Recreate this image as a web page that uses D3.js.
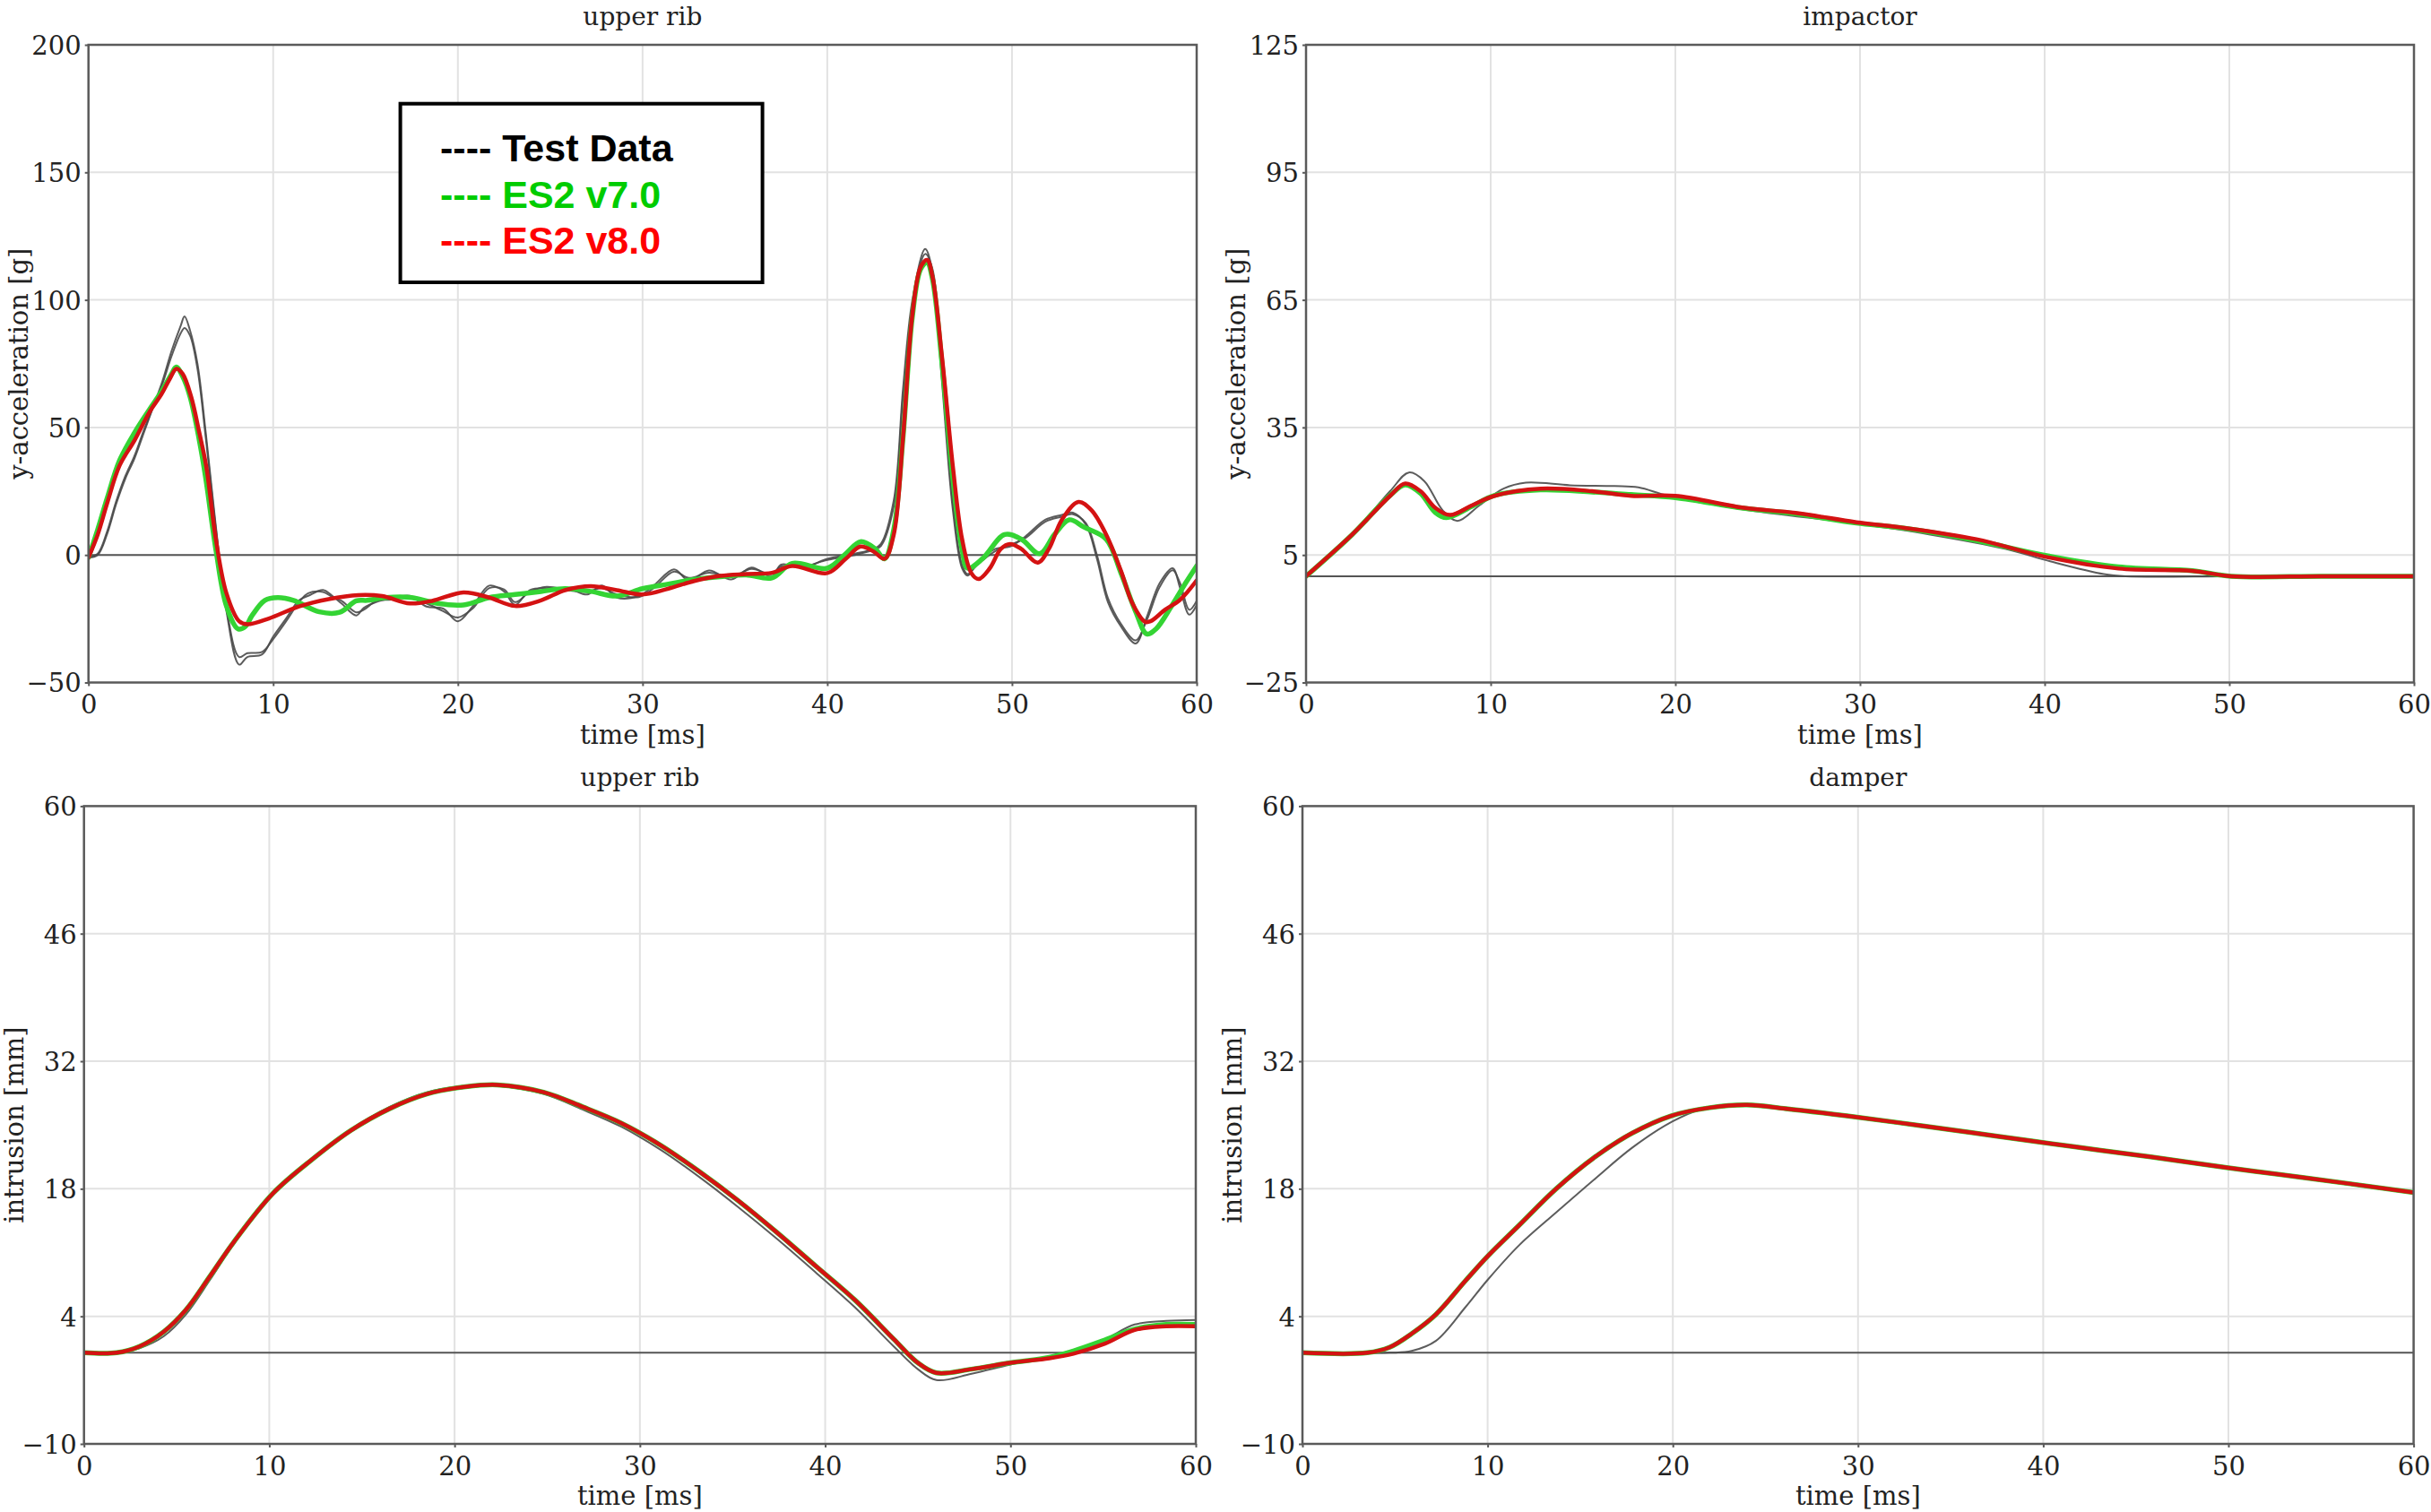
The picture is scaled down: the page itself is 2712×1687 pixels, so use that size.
<!DOCTYPE html>
<html><head><meta charset="utf-8">
<script src="https://cdn.jsdelivr.net/npm/d3@7"></script>
<style>html,body{margin:0;padding:0;background:#fff;} svg{display:block}</style>
</head><body><svg id="c" width="2712" height="1687"></svg>
<script>
// ---------------- DATA ----------------
const timeTicks = [0, 10, 20, 30, 40, 50, 60];
const accRibTicks = [-50, 0, 50, 100, 150, 200];
const accImpTicks = [-25, 5, 35, 65, 95, 125];
const intrTicks = [-10, 4, 18, 32, 46, 60];

const panelTitles = ["upper rib", "impactor", "upper rib", "damper"];
const yTitles = ["y-acceleration [g]", "y-acceleration [g]", "intrusion [mm]", "intrusion [mm]"];
const xTitle = "time [ms]";
const legendLabels = ["---- Test Data", "---- ES2 v7.0", "---- ES2 v8.0"];

// Panel 1: upper rib y-acceleration [g]
const ribAccTestT = [0,0.5,1.0,1.5,2.0,2.5,3.0,3.5,4.0,4.5,5.0,5.2,5.5,5.9,6.35,6.9,7.47,8.16,8.6,9.4,10.0,10.7,11.4,11.9,12.7,13.2,13.7,14.5,14.9,15.6,16.4,17.4,18.3,19.2,20.0,20.8,21.7,22.5,23.1,23.9,24.8,26.1,27.0,27.8,28.6,29.8,30.6,31.7,32.5,33.6,34.8,35.9,37.0,37.5,38.7,40.0,41.5,42.5,42.9,43.6,44.1,44.6,45.3,45.7,46.2,46.8,47.3,47.6,48.1,49.1,49.9,50.7,51.8,52.7,53.3,54.0,54.6,55.2,55.9,56.7,57.3,58.0,58.7,59.1,59.6,60];
const ribAccTestA = [-1,0,8,20,30,38,48,58,68,80,90,93.5,88,75,48,11,-22,-43,-40,-39,-32,-24.9,-17.8,-16,-13.7,-16,-19,-23.7,-20.8,-18.4,-17,-16,-20.2,-21,-26,-20.2,-12,-14.3,-19.6,-13.8,-13,-13.5,-15.5,-12,-16.7,-16,-12,-5.6,-10,-6.1,-9.6,-4.9,-8.5,-3.8,-5,-1.5,0.5,2.4,4.3,21.4,65,99.5,120,111,69,17.6,-5.2,-8.1,-3.3,2.4,3.3,7.1,13.8,15.7,16.6,11.9,-1.5,-18.6,-28,-34.7,-24.3,-11,-5.2,-12.9,-23.4,-19.6];
const ribAccTestB = [-1,0.5,9,21,31,39,49,58,67,78,87,89,86,73,46,10,-21,-40,-38.5,-38,-33,-26,-18.5,-15,-14.5,-16.5,-18,-22.5,-21.5,-18,-17.5,-16.5,-19,-22,-24.5,-21,-13,-13.5,-18.5,-14.5,-12.5,-14,-14.5,-13,-15.5,-16.5,-13,-6.5,-9,-7,-8.5,-5.5,-7.5,-4.5,-4.5,-2,0,2,3.5,19,62,97,118,112,72,20,-4,-7.5,-4,1.5,4,6.5,13,15,16,12.5,0,-17,-27,-33.5,-25.5,-12.5,-6,-11,-21.5,-18];
const ribAccV7T = [0,0.5,1.0,1.68,2.5,3.3,3.95,4.5,4.75,5.1,5.5,6.0,6.35,6.9,7.47,8.1,8.5,8.86,9.55,10.25,11.1,12.5,13.6,14.5,15.1,16.1,17.5,18.9,20.3,21.7,23.1,24.5,25.8,27.2,28.6,30.0,31.4,32.8,34.2,35.6,37.0,38.1,40.0,41.0,41.8,42.6,43.1,43.6,44.1,44.6,45.05,45.4,45.7,46.2,46.8,47.3,47.6,48.4,49.6,50.5,51.5,52.3,53.1,53.9,55.1,55.9,56.7,57.3,57.8,58.6,59.4,60];
const ribAccV7 = [-1,10,22,37,48,57,64,71,73.7,70,62,45,30,2,-20,-29,-28,-23.7,-17.8,-16.7,-17.8,-22.3,-22.5,-18,-17.8,-16.7,-16.7,-19,-19.6,-16.7,-15.5,-14.3,-13.2,-14.3,-16.1,-13.2,-11.4,-9.6,-8.5,-7.8,-9,-3.3,-5.2,0.5,5.2,2.4,-1.5,10,46,93,112,114.7,108,76,30,2,-5.2,-1.5,8,6.2,0.5,8,13.8,10.9,6.2,-7.1,-22.3,-31,-29,-20.5,-11,-4.3];
const ribAccV8T = [0,0.5,1.0,1.68,2.5,3.3,3.95,4.4,4.76,5.1,5.56,6.0,6.37,6.9,7.47,8.16,8.6,9.77,11.4,13.0,14.6,15.9,17.4,18.6,20.3,21.7,23.1,24.5,25.8,27.2,28.6,30.0,31.4,32.8,34.2,35.6,37.0,38.1,40.0,41.0,41.8,42.5,43.1,43.6,44.1,44.6,45.05,45.4,45.7,46.2,46.8,47.3,47.8,48.2,48.8,49.4,49.9,50.5,51.4,52.0,52.7,53.6,54.3,55.1,55.9,56.5,57.2,57.5,58.3,59.1,60];
const ribAccV8 = [-1,8,20,35,45,56,63,69,73,71,62,48,35,6,-15,-26,-27.2,-24.9,-20.2,-17.3,-15.7,-16.1,-19,-18,-14.7,-16.7,-20,-17.8,-13.8,-12.2,-13.8,-15.5,-13.2,-10.2,-8.2,-7.5,-7,-4.3,-7.1,-1.5,3.3,1.4,-1.5,8,46,93.8,112.8,115.7,109,78.5,34.7,6.2,-7.1,-9.4,-5.2,2.4,4.3,2.4,-3.0,2.4,13.8,20.8,17.6,8,-6.2,-18.6,-26.2,-26,-21.4,-17.6,-10];

// Panel 2: impactor y-acceleration [g]
const impTestT = [0,2.5,4.55,5.57,6.4,7.4,8.2,9.4,10.7,11.9,14.3,16.7,18.0,19.6,23.7,29.8,33.8,37.9,40.3,43.2,44.4,50,55,60];
const impTest = [0,9.8,20,24.4,22.4,15.5,13,16.7,20.6,22,21.4,21.2,20.9,18.9,15.7,12.4,9.8,6.4,3.5,0.5,0,0,0,0];
const impV7T = [0,2.5,4.55,5.37,6.2,7.0,7.6,9.0,10.2,12.7,15.5,17.6,20,23.7,26.5,29.8,32.2,36.3,39.9,44,48,50.1,55,60];
const impV7 = [0,9.8,19,21.5,19.5,15,13.8,16.5,19,20.3,19.8,19.2,18.5,16,14.7,12.5,11.4,8.4,5,2.2,1.3,0,0,0];
const impV8T = [0,2.5,4.55,5.37,6.2,7.0,7.8,9.0,10.2,12.7,15.5,17.6,20,23.7,26.5,29.8,32.2,36.3,39.9,44,48,50.1,55,60];
const impV8 = [0,9.8,18.9,21.8,20,16.1,14.4,16.7,18.9,20.6,20,18.9,18.9,16.1,14.9,12.7,11.5,8.7,4.7,1.8,1.25,0,0,0];

// Panel 3: upper rib intrusion [mm]
const ribIntT = [0,1.76,3.0,4.3,5.5,6.8,8.1,10.2,12.3,14.4,16.5,18.5,20.6,22.3,24.8,26.9,29.0,31.1,33.2,35.3,37.4,39.5,41.6,43.7,45.0,46.0,47.9,50.0,52.1,53.4,55.1,56.7,58.4,60];
const ribIntTest = [0,0,0.5,1.8,4.2,8.0,12.0,17.5,21.3,24.5,27.0,28.6,29.3,29.3,28.4,26.7,24.8,22.3,19.3,16.0,12.5,8.8,5.0,0.7,-1.8,-3.0,-2.3,-1.3,-0.4,0.3,1.5,3.1,3.5,3.6];
const ribIntV7 = [0,0,0.7,2.3,4.7,8.4,12.2,17.5,21.2,24.4,26.8,28.4,29.2,29.4,28.6,27,25.2,22.8,19.9,16.7,13.2,9.5,5.8,1.5,-1.1,-2.2,-1.8,-1.1,-0.5,0.2,1.4,2.6,3.1,3.1];
const ribIntV8 = [0,0,0.7,2.3,4.7,8.4,12.2,17.5,21.2,24.4,26.8,28.4,29.2,29.4,28.6,27,25.2,22.8,19.9,16.7,13.2,9.5,5.8,1.5,-1.1,-2.2,-1.8,-1.1,-0.6,-0.1,1.0,2.5,2.9,2.9];

// Panel 4: damper intrusion [mm]
const damTestT = [0,4.7,5.9,7.2,8.8,10.0,11.7,13.7,15.8,17.8,19.9,21.5,24.0,26.1,29.4,33.5,37.6,41.7,45.8,50.0,54.0,60];
const damTest = [0,0,0.2,1.3,5.0,8.0,11.8,15.4,19.1,22.5,25.3,26.7,27.1,26.7,25.9,24.8,23.65,22.5,21.4,20.2,19.15,17.5];
const damModelT = [0,3.5,4.7,5.9,7.2,8.8,10.0,11.7,13.7,15.8,17.8,19.9,22.0,24.0,26.1,29.4,33.5,37.6,41.7,45.8,50.0,54.0,60];
const damV7 = [0,0,0.6,2.1,4.2,7.9,10.6,14,18,21.5,24.1,26,26.9,27.2,26.8,26,24.9,23.75,22.6,21.5,20.3,19.25,17.6];
const damV8 = [0,0,0.6,2.1,4.2,7.9,10.6,14,18,21.5,24.1,26,26.9,27.2,26.8,26,24.9,23.75,22.6,21.5,20.3,19.25,17.6];

// ---------------- LAYOUT / STYLE ----------------
const zip = (t, v) => t.map((d, i) => ({t: d, v: v[i]}));
const COL = {test: "#4a4a4a", v7: "#34d434", v8: "#d41212"};

const panels = [
  {box: [98.7, 50, 1335, 761.5], yDom: [-50, 200], yTicks: accRibTicks, title: panelTitles[0], yTitle: yTitles[0],
   series: [{d: zip(ribAccTestT, ribAccTestA), k: "test"}, {d: zip(ribAccTestT, ribAccTestB), k: "test"},
            {d: zip(ribAccV7T, ribAccV7), k: "v7"}, {d: zip(ribAccV8T, ribAccV8), k: "v8"}]},
  {box: [1457, 50, 2693, 761.5], yDom: [-25, 125], yTicks: accImpTicks, title: panelTitles[1], yTitle: yTitles[1],
   series: [{d: zip(impTestT, impTest), k: "test"}, {d: zip(impV7T, impV7), k: "v7"}, {d: zip(impV8T, impV8), k: "v8"}]},
  {box: [93.7, 899.4, 1334, 1611], yDom: [-10, 60], yTicks: intrTicks, title: panelTitles[2], yTitle: yTitles[2],
   series: [{d: zip(ribIntT, ribIntTest), k: "test"}, {d: zip(ribIntT, ribIntV7), k: "v7"}, {d: zip(ribIntT, ribIntV8), k: "v8"}]},
  {box: [1453, 899.4, 2692.6, 1611], yDom: [-10, 60], yTicks: intrTicks, title: panelTitles[3], yTitle: yTitles[3],
   series: [{d: zip(damTestT, damTest), k: "test"}, {d: zip(damModelT, damV7), k: "v7"}, {d: zip(damModelT, damV8), k: "v8"}]}
];

const svg = d3.select("#c");
svg.append("rect").attr("width", 2712).attr("height", 1687).attr("fill", "#fff");
const SERIF = "'DejaVu Serif', serif";

panels.forEach((p, pi) => {
  const [x0, y0, x1, y1] = p.box;
  const x = d3.scaleLinear().domain([0, 60]).range([x0, x1]);
  const y = d3.scaleLinear().domain(p.yDom).range([y1, y0]);
  const g = svg.append("g");

  // grid
  g.selectAll(".gx").data(timeTicks.slice(1, -1)).enter().append("line")
    .attr("x1", d => x(d)).attr("x2", d => x(d)).attr("y1", y0).attr("y2", y1)
    .attr("stroke", "#e2e2e2").attr("stroke-width", 2);
  g.selectAll(".gy").data(p.yTicks.slice(1, -1)).enter().append("line")
    .attr("x1", x0).attr("x2", x1).attr("y1", d => y(d)).attr("y2", d => y(d))
    .attr("stroke", "#e2e2e2").attr("stroke-width", 2);

  // zero line
  g.append("line").attr("x1", x0).attr("x2", x1).attr("y1", y(0)).attr("y2", y(0))
    .attr("stroke", "#555").attr("stroke-width", 2);

  // series
  const clipId = "clip" + pi;
  svg.append("clipPath").attr("id", clipId).append("rect")
    .attr("x", x0).attr("y", y0).attr("width", x1 - x0).attr("height", y1 - y0);
  const line = d3.line().x(d => x(d.t)).y(d => y(d.v)).curve(d3.curveCatmullRom.alpha(0.5));
  const sg = g.append("g").attr("clip-path", `url(#${clipId})`);
  p.series.forEach(s => {
    sg.append("path").attr("d", line(s.d)).attr("fill", "none")
      .attr("stroke", COL[s.k])
      .attr("stroke-width", s.k === "test" ? 2 : (s.k === "v7" ? 5.5 : 4.5))
      .attr("stroke-linejoin", "round").attr("stroke-linecap", "round")
      .attr("opacity", s.k === "test" ? 0.9 : 1);
  });

  // frame
  g.append("rect").attr("x", x0).attr("y", y0).attr("width", x1 - x0).attr("height", y1 - y0)
    .attr("fill", "none").attr("stroke", "#5a5a5a").attr("stroke-width", 2.5);

  // axes
  const ax = g.append("g").attr("transform", `translate(0,${y1})`)
    .call(d3.axisBottom(x).tickValues(timeTicks).tickSize(4).tickPadding(10).tickFormat(d3.format("d")));
  const ay = g.append("g").attr("transform", `translate(${x0},0)`)
    .call(d3.axisLeft(y).tickValues(p.yTicks).tickSize(4).tickPadding(4).tickFormat(d3.format("d")));
  [ax, ay].forEach(a => {
    a.select(".domain").remove();
    a.selectAll("line").attr("stroke", "#5a5a5a").attr("stroke-width", 2);
    a.selectAll("text").attr("font-family", SERIF).attr("font-size", 29).attr("fill", "#222");
  });
  ay.selectAll("text").attr("dy", "0.36em");

  // titles
  g.append("text").attr("x", (x0 + x1) / 2).attr("y", y0 - 22).attr("text-anchor", "middle")
    .attr("font-family", SERIF).attr("font-size", 28).attr("fill", "#222").text(p.title);
  g.append("text").attr("x", (x0 + x1) / 2).attr("y", y1 + 68).attr("text-anchor", "middle")
    .attr("font-family", SERIF).attr("font-size", 29).attr("fill", "#222").text(xTitle);
  const yc = (y0 + y1) / 2, xt = x0 - 68;
  g.append("text").attr("transform", `translate(${xt},${yc}) rotate(-90)`).attr("text-anchor", "middle")
    .attr("font-family", SERIF).attr("font-size", 29).attr("fill", "#222").text(p.yTitle);
});

// legend
const lg = svg.append("g");
lg.append("rect").attr("x", 446.6).attr("y", 115.7).attr("width", 404).attr("height", 199.3)
  .attr("fill", "#fff").attr("stroke", "#000").attr("stroke-width", 4);
const legCols = ["#000000", "#00cc00", "#ff0000"];
const legBase = [180, 231.7, 282.7];
legendLabels.forEach((t, i) => {
  lg.append("text").attr("x", 491).attr("y", legBase[i])
    .attr("font-family", "'Liberation Sans', Arial, sans-serif").attr("font-weight", "bold")
    .attr("font-size", 43).attr("fill", legCols[i]).text(t);
});
</script>
</body></html>
